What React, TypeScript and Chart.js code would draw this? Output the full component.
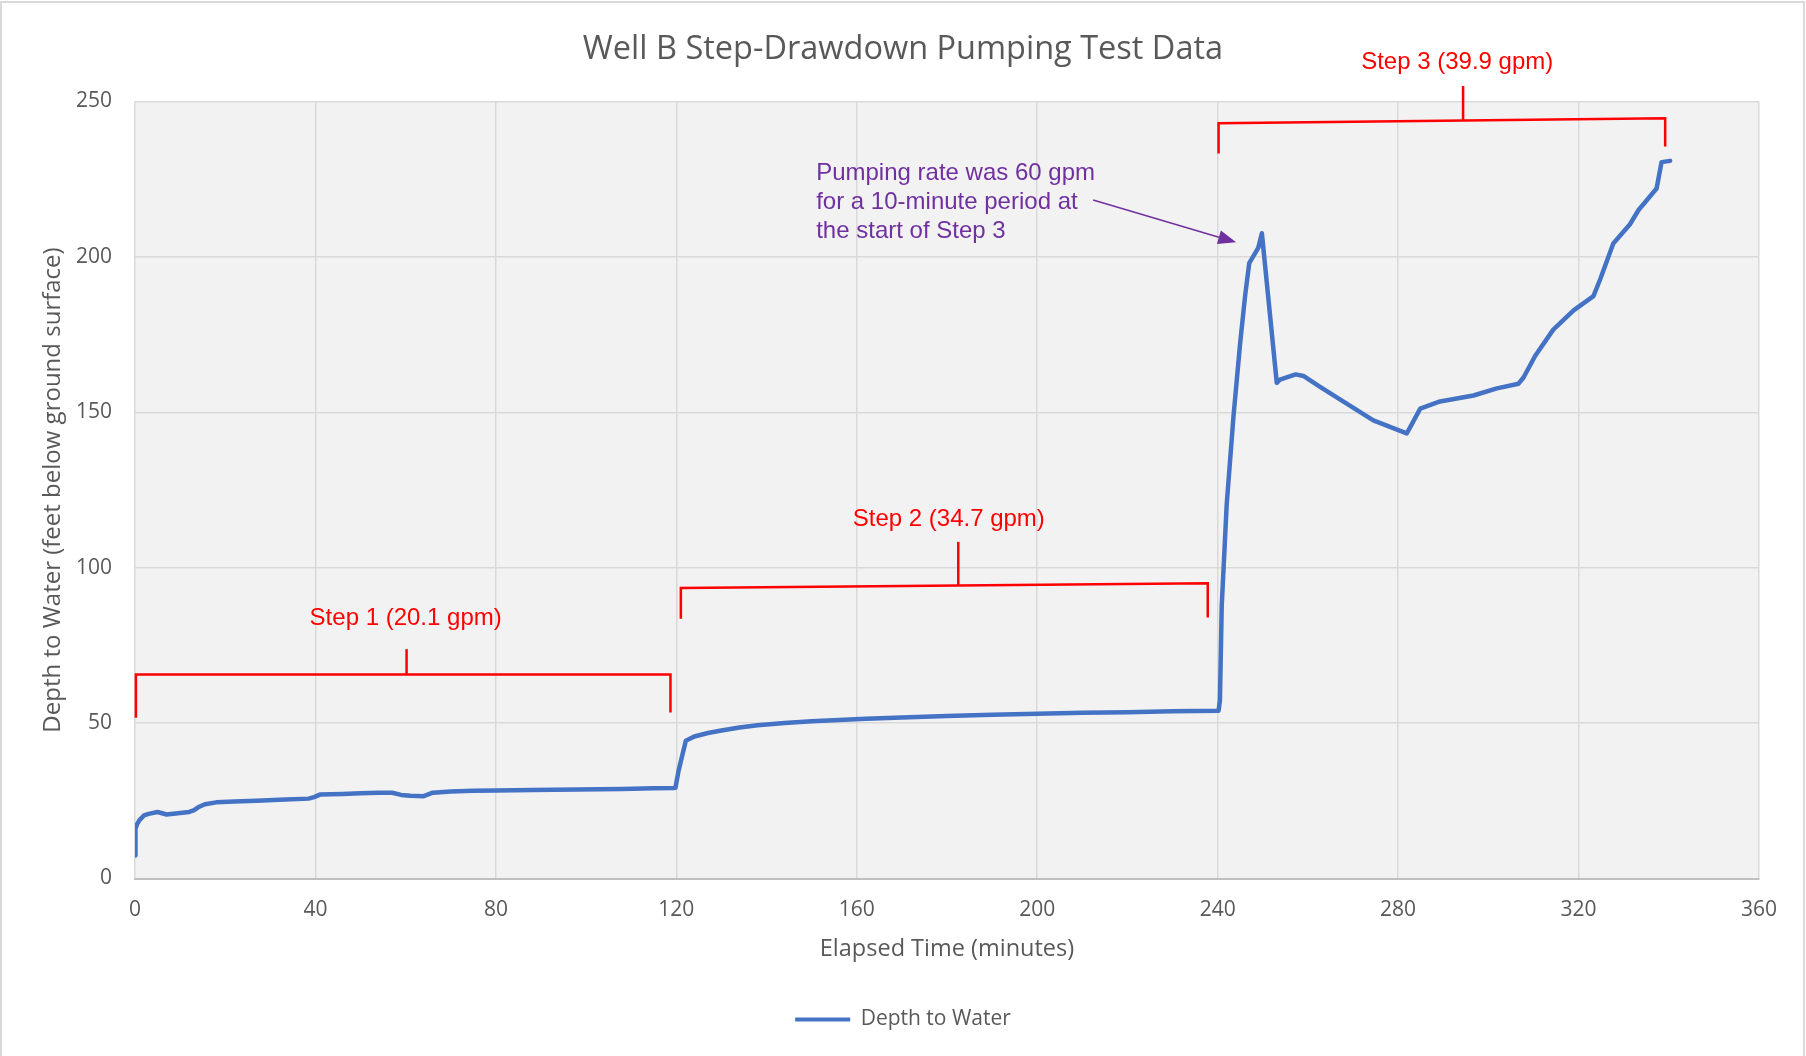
import React, { useEffect, useRef } from 'react';
import { Chart, registerables } from 'chart.js';

Chart.register(...registerables);

// ---- Data (elapsed minutes / depth to water, feet) ----
const step1Minutes = [0, 0.1, 0.5, 1, 2, 3, 5, 6, 7, 9, 12, 13, 14, 15.5, 18, 22, 27, 32, 38.5, 39.7, 41, 46, 50, 54, 57, 59, 61, 64, 66, 70, 75, 80, 88, 98, 108, 115, 119.4];
const step1Depth = [7.4, 16.0, 17.6, 18.8, 20.3, 20.8, 21.4, 21.0, 20.6, 20.9, 21.4, 21.9, 22.9, 23.9, 24.5, 24.8, 25.0, 25.3, 25.7, 26.2, 27.0, 27.2, 27.4, 27.6, 27.6, 26.9, 26.6, 26.5, 27.6, 28.0, 28.2, 28.3, 28.5, 28.6, 28.8, 29.0, 29.1];

const step2Minutes = [119.8, 120.5, 122.1, 124, 127, 130, 134, 138, 144, 150, 156, 162, 170, 180, 190, 200, 210, 220, 230, 240.2];
const step2Depth = [29.2, 34.7, 44.3, 45.7, 46.8, 47.6, 48.6, 49.3, 50.0, 50.6, 51.0, 51.4, 51.8, 52.3, 52.7, 53.0, 53.3, 53.5, 53.8, 54.0];

const step3Minutes = [240.5, 240.9, 242, 243.5, 245, 246.1, 247, 249, 249.8, 253.1, 253.8, 257.3, 259, 262.7, 268.6, 274.5, 281.9, 282.6, 284.9, 289.3, 296.7, 301.9, 306.7, 307.8, 310.4, 314.4, 318.9, 323.3, 324.8, 327.7, 331.4, 333.3, 337.3, 338.4, 340.3];
const step3Depth = [57.3, 87.7, 120.3, 148.6, 172.5, 187.7, 198.0, 202.9, 207.6, 159.5, 160.5, 162.2, 161.7, 158.2, 152.8, 147.4, 143.2, 145.0, 151.2, 153.5, 155.4, 157.7, 159.2, 161.2, 168.2, 176.6, 182.8, 187.4, 192.8, 204.3, 210.5, 215.1, 222.0, 230.5, 230.9];

// ---- Annotation anchors (data units) ----
const stepLabels = ['Step 1 (20.1 gpm)', 'Step 2 (34.7 gpm)', 'Step 3 (39.9 gpm)'];
const stepLabelX = [60.0, 180.4, 293.1];
const stepLabelY = [83.8, 115.4, 262.6];
const bracketLeftX = [0.2, 121.0, 240.2];
const bracketRightX = [118.7, 237.8, 339.2];
const bracketLeftTopY = [65.6, 93.5, 243.0];
const bracketRightTopY = [65.6, 95.0, 244.6];
const bracketLeftFootY = [51.7, 83.6, 233.3];
const bracketRightFootY = [53.4, 84.0, 235.5];
const bracketTickX = [60.2, 182.5, 294.4];
const bracketTickTopY = [73.8, 108.3, 255.0];

const noteLines = ['Pumping rate was 60 gpm', 'for a 10-minute period at', 'the start of Step 3'];
const noteX = 151.0;
const noteY = [226.8, 217.5, 208.3];
const arrowFrom = [212.4, 218.3];
const arrowTo = [244.1, 204.7];

const TEXT = '#595959';
const FONT = '"Open Sans", "DejaVu Sans", sans-serif';

const toPoints = (xs: number[], ys: number[]) => xs.map((x, i) => ({ x, y: ys[i] }));

const backgroundPlugin = {
  id: 'bg',
  beforeDraw(chart: any) {
    const { ctx, chartArea } = chart;
    ctx.save();
    ctx.fillStyle = '#ffffff';
    ctx.fillRect(0, 0, chart.width, chart.height);
    ctx.strokeStyle = '#d9d9d9';
    ctx.lineWidth = 2;
    ctx.strokeRect(1, 2, chart.width - 3, chart.height + 10);
    ctx.fillStyle = '#f2f2f2';
    ctx.fillRect(chartArea.left, chartArea.top, chartArea.right - chartArea.left, chartArea.bottom - chartArea.top);
    ctx.restore();
  },
};

const annotationPlugin = {
  id: 'notes',
  afterDraw(chart: any) {
    const { ctx } = chart;
    const xs = chart.scales.x;
    const ys = chart.scales.y;
    const px = (v: number) => xs.getPixelForValue(v);
    const py = (v: number) => ys.getPixelForValue(v);
    ctx.save();
    // red brackets
    ctx.strokeStyle = '#ff0000';
    ctx.lineWidth = 2.5;
    ctx.lineJoin = 'miter';
    for (let i = 0; i < stepLabels.length; i++) {
      ctx.beginPath();
      ctx.moveTo(px(bracketLeftX[i]), py(bracketLeftFootY[i]));
      ctx.lineTo(px(bracketLeftX[i]), py(bracketLeftTopY[i]));
      ctx.lineTo(px(bracketRightX[i]), py(bracketRightTopY[i]));
      ctx.lineTo(px(bracketRightX[i]), py(bracketRightFootY[i]));
      ctx.stroke();
      const f = (bracketTickX[i] - bracketLeftX[i]) / (bracketRightX[i] - bracketLeftX[i]);
      const baseY = bracketLeftTopY[i] + f * (bracketRightTopY[i] - bracketLeftTopY[i]);
      ctx.beginPath();
      ctx.moveTo(px(bracketTickX[i]), py(baseY));
      ctx.lineTo(px(bracketTickX[i]), py(bracketTickTopY[i]));
      ctx.stroke();
    }
    ctx.fillStyle = '#ff0000';
    ctx.font = '24px "Liberation Sans", Arial, sans-serif';
    ctx.textAlign = 'center';
    ctx.textBaseline = 'middle';
    for (let i = 0; i < stepLabels.length; i++) {
      ctx.fillText(stepLabels[i], px(stepLabelX[i]), py(stepLabelY[i]));
    }
    // purple note
    ctx.fillStyle = '#7030a0';
    ctx.textAlign = 'left';
    for (let i = 0; i < noteLines.length; i++) {
      ctx.fillText(noteLines[i], px(noteX), py(noteY[i]));
    }
    const x1 = px(arrowFrom[0]);
    const y1 = py(arrowFrom[1]);
    const x2 = px(arrowTo[0]);
    const y2 = py(arrowTo[1]);
    const ang = Math.atan2(y2 - y1, x2 - x1);
    const headLen = 18;
    const headHalf = 7;
    const bx = x2 - headLen * Math.cos(ang);
    const by = y2 - headLen * Math.sin(ang);
    ctx.strokeStyle = '#7030a0';
    ctx.lineWidth = 1.5;
    ctx.beginPath();
    ctx.moveTo(x1, y1);
    ctx.lineTo(bx, by);
    ctx.stroke();
    ctx.beginPath();
    ctx.moveTo(x2, y2);
    ctx.lineTo(bx + headHalf * Math.sin(ang), by - headHalf * Math.cos(ang));
    ctx.lineTo(bx - headHalf * Math.sin(ang), by + headHalf * Math.cos(ang));
    ctx.closePath();
    ctx.fill();
    ctx.restore();
  },
};

export default function App() {
  const canvasRef = useRef<HTMLCanvasElement | null>(null);

  useEffect(() => {
    document.body.style.margin = '0';
    document.body.style.overflow = 'hidden';
    const canvas = canvasRef.current;
    if (!canvas) return;
    Chart.defaults.font.family = FONT;

    const data = [
      ...toPoints(step1Minutes, step1Depth),
      ...toPoints(step2Minutes, step2Depth),
      ...toPoints(step3Minutes, step3Depth),
    ];

    const chart = new Chart(canvas, {
      type: 'line',
      data: {
        datasets: [
          {
            label: 'Depth to Water',
            data,
            borderColor: '#4472c4',
            backgroundColor: '#4472c4',
            borderWidth: 4.5,
            pointRadius: 0,
            tension: 0,
            fill: false,
            borderJoinStyle: 'round',
            borderCapStyle: 'round',
          },
        ],
      },
      options: {
        responsive: false,
        animation: false,
        devicePixelRatio: 1,
        layout: { padding: { left: 0, right: 0, top: 0, bottom: 16 } },
        plugins: {
          title: {
            display: true,
            text: 'Well B Step-Drawdown Pumping Test Data',
            color: TEXT,
            font: { size: 32.5, weight: 'normal', family: FONT },
            padding: { top: 30.5, bottom: 32 },
          },
          legend: {
            position: 'bottom',
            labels: {
              boxWidth: 55,
              boxHeight: 4,
              padding: 10,
              color: TEXT,
              font: { size: 21, family: FONT },
              generateLabels: (c: any) =>
                Chart.defaults.plugins.legend.labels.generateLabels(c).map((l: any) => ({
                  ...l,
                  lineWidth: 0,
                  fillStyle: '#4472c4',
                  strokeStyle: '#4472c4',
                })),
            },
          },
          tooltip: { enabled: false },
        },
        scales: {
          x: {
            type: 'linear',
            min: 0,
            max: 360,
            ticks: { stepSize: 40, color: TEXT, font: { size: 21, family: FONT }, padding: 19 },
            grid: { color: '#d9d9d9', lineWidth: 1.5, drawTicks: false },
            border: { color: '#bfbfbf', width: 2 },
            title: {
              display: true,
              text: 'Elapsed Time (minutes)',
              color: TEXT,
              font: { size: 23.5, family: FONT },
              padding: { top: 13, bottom: 35.5 },
            },
            afterFit: (s: any) => {
              s.height = 120.5;
            },
          },
          y: {
            type: 'linear',
            min: 0,
            max: 250,
            ticks: { stepSize: 50, color: TEXT, font: { size: 21, family: FONT }, padding: 23 },
            grid: { color: '#d9d9d9', lineWidth: 1.5, drawTicks: false },
            border: { display: false },
            title: {
              display: true,
              text: 'Depth to Water (feet below ground surface)',
              color: TEXT,
              font: { size: 24, family: FONT },
              padding: { top: 39, bottom: 0 },
            },
            afterFit: (s: any) => {
              s.width = 135;
            },
          },
          y2: {
            type: 'linear',
            position: 'right',
            display: true,
            grid: { display: false, drawTicks: false },
            ticks: { display: false },
            border: { display: false },
            afterFit: (s: any) => {
              s.width = 47;
            },
          },
        },
      } as any,
      plugins: [backgroundPlugin, annotationPlugin],
    });

    return () => chart.destroy();
  }, []);

  return (
    <div style={{ position: 'relative', width: 1806, height: 1056 }}>
      <canvas ref={canvasRef} width={1806} height={1056} style={{ display: 'block' }} />
    </div>
  );
}
